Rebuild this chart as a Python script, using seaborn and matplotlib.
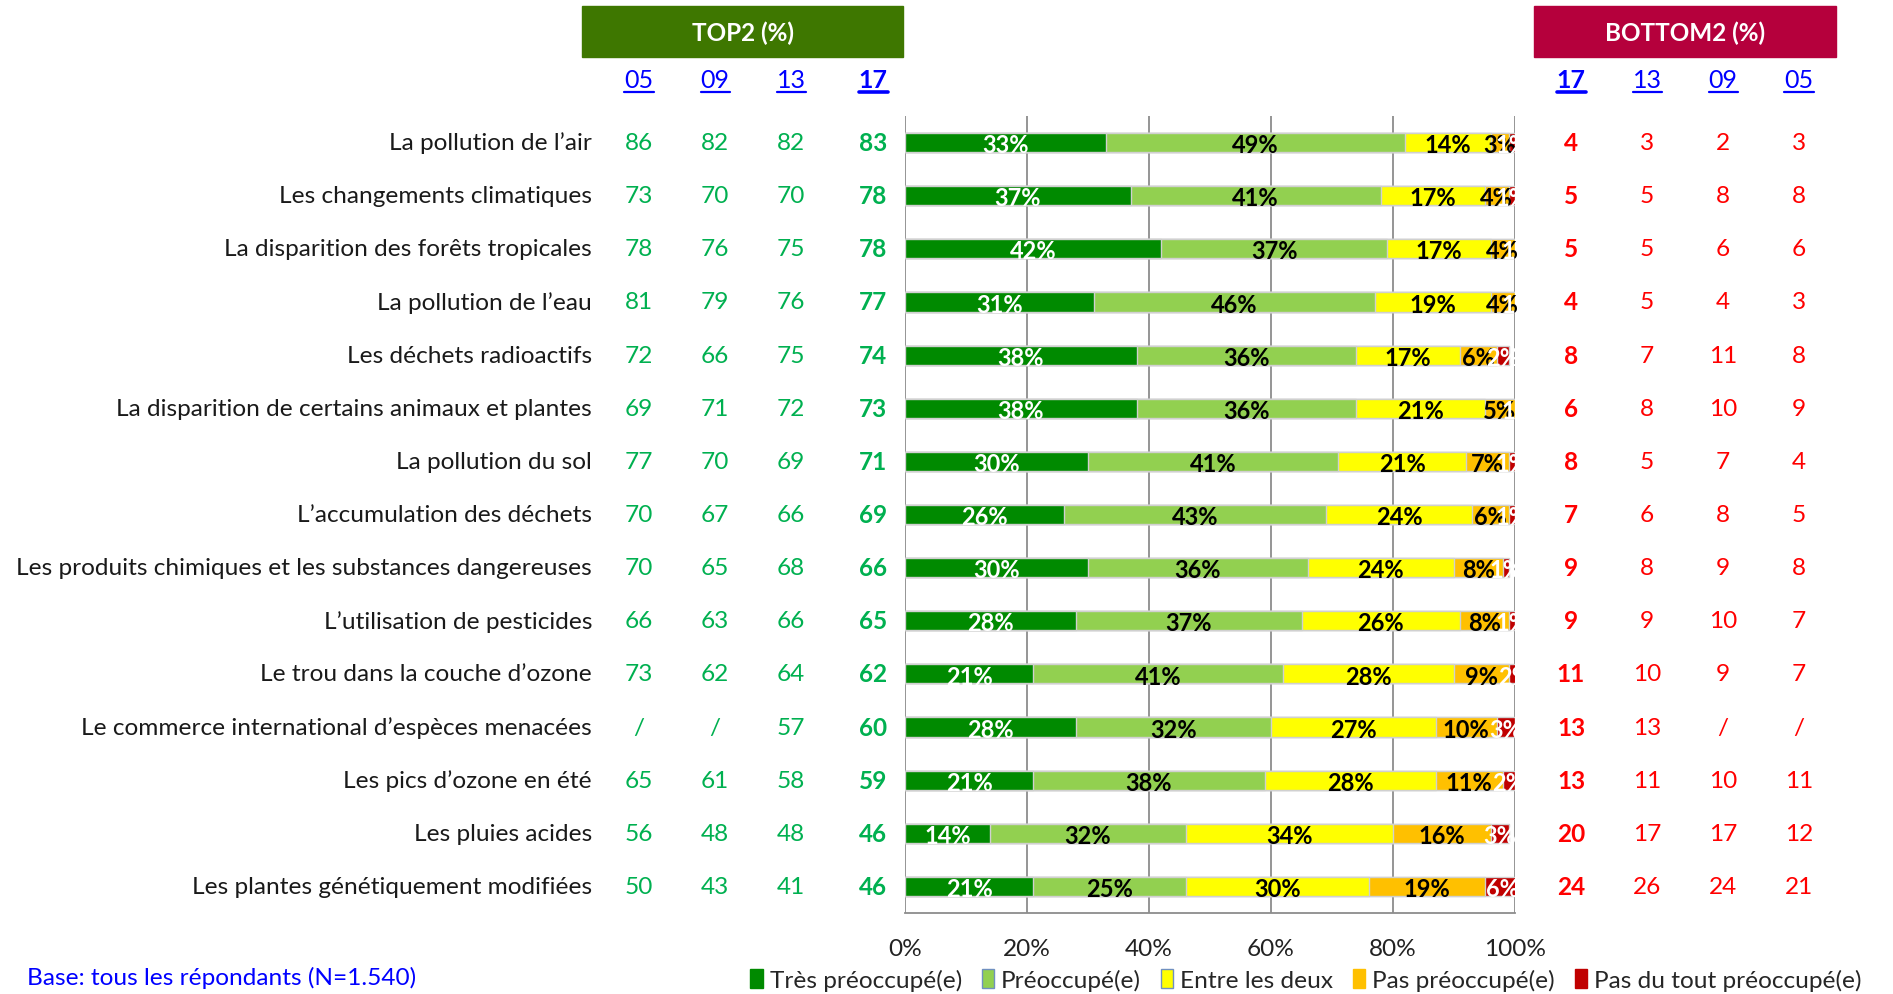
import numpy as np
import pandas as pd
import matplotlib
matplotlib.use("Agg")
import matplotlib.pyplot as plt
import matplotlib.transforms as mtransforms
from matplotlib.patches import Patch, Rectangle
from matplotlib.lines import Line2D
import seaborn as sns

# ---- data ----
items = [
    "La pollution de l\u2019air",
    "Les changements climatiques",
    "La disparition des forêts tropicales",
    "La pollution de l\u2019eau",
    "Les déchets radioactifs",
    "La disparition de certains animaux et plantes",
    "La pollution du sol",
    "L\u2019accumulation des déchets",
    "Les produits chimiques et les substances dangereuses",
    "L\u2019utilisation de pesticides",
    "Le trou dans la couche d\u2019ozone",
    "Le commerce international d\u2019espèces menacées",
    "Les pics d\u2019ozone en été",
    "Les pluies acides",
    "Les plantes génétiquement modifiées",
]
tres = [33, 37, 42, 31, 38, 38, 30, 26, 30, 28, 21, 28, 21, 14, 21]
preoc = [49, 41, 37, 46, 36, 36, 41, 43, 36, 37, 41, 32, 38, 32, 25]
entre = [14, 17, 17, 19, 17, 21, 21, 24, 24, 26, 28, 27, 28, 34, 30]
pas = [3, 4, 4, 4, 6, 5, 7, 6, 8, 8, 9, 10, 11, 16, 19]
pas_tout = [1, 1, 1, 1, 2, 1, 1, 1, 1, 1, 2, 3, 2, 3, 6]

series_names = ["Très préoccupé(e)", "Préoccupé(e)", "Entre les deux",
                "Pas préoccupé(e)", "Pas du tout préoccupé(e)"]
colors = ["#008A00", "#92D050", "#FFFF00", "#FFC000", "#C00000"]
label_colors = ["white", "black", "black", "black", "white"]

top2_years = ["05", "09", "13", "17"]
top2_05 = ["86", "73", "78", "81", "72", "69", "77", "70", "70", "66", "73", "/", "65", "56", "50"]
top2_09 = ["82", "70", "76", "79", "66", "71", "70", "67", "65", "63", "62", "/", "61", "48", "43"]
top2_13 = ["82", "70", "75", "76", "75", "72", "69", "66", "68", "66", "64", "57", "58", "48", "41"]
top2_17 = ["83", "78", "78", "77", "74", "73", "71", "69", "66", "65", "62", "60", "59", "46", "46"]

bot2_years = ["17", "13", "09", "05"]
bot2_17 = ["4", "5", "5", "4", "8", "6", "8", "7", "9", "9", "11", "13", "13", "20", "24"]
bot2_13 = ["3", "5", "5", "5", "7", "8", "5", "6", "8", "9", "10", "13", "11", "17", "26"]
bot2_09 = ["2", "8", "6", "4", "11", "10", "7", "8", "9", "10", "9", "/", "10", "17", "24"]
bot2_05 = ["3", "8", "6", "3", "8", "9", "4", "5", "8", "7", "7", "/", "11", "12", "21"]

# ---- figure ----
sns.set_style("white")
FONT = ["Lato", "DejaVu Sans"]
plt.rcParams["font.family"] = FONT

W, H = 1893, 995
FS = 17.6
fig = plt.figure(figsize=(W / 100, H / 100), dpi=100)
ax = fig.add_axes([905 / W, 1 - 914 / H, (1515 - 905) / W, (914 - 117) / H])

segs = [tres, preoc, entre, pas, pas_tout]
df = pd.DataFrame({"item": items})
cum = np.zeros(len(items))
cums = []
for s in segs:
    cum = cum + np.array(s)
    cums.append(cum.copy())

# draw cumulative bars from longest to shortest so they stack visually
for k in range(len(segs) - 1, -1, -1):
    df["val"] = cums[k]
    sns.barplot(data=df, x="val", y="item", orient="h", color=colors[k],
                width=0.36, saturation=1, edgecolor="#D0D0D0", linewidth=1.0,
                ax=ax, order=items)

# segment labels
for k, s in enumerate(segs):
    left = cums[k] - np.array(s)
    for i, v in enumerate(s):
        ax.text(left[i] + v / 2, i + 0.04, f"{v}%", ha="center", va="center",
                fontsize=17, fontweight="bold", color=label_colors[k], clip_on=False)

ax.set_xlim(0, 100)
ax.set_ylim(len(items) - 0.5, -0.5)
ax.set_xticks([0, 20, 40, 60, 80, 100])
ax.set_xticklabels(["0%", "20%", "40%", "60%", "80%", "100%"], fontsize=FS, color="#222222")
ax.set_yticks([])
ax.set_ylabel("")
ax.set_xlabel("")
ax.xaxis.grid(True, color="#8C8C8C", linewidth=1.3)
ax.set_axisbelow(True)
for sp in ["top", "right", "left"]:
    ax.spines[sp].set_visible(False)
ax.spines["bottom"].set_color("#8C8C8C")
ax.spines["bottom"].set_linewidth(1.3)
ax.tick_params(axis="x", length=6, color="#8C8C8C", pad=12, direction="out")

trans = mtransforms.blended_transform_factory(fig.transFigure, ax.transData)

# category labels
for i, name in enumerate(items):
    ax.text(592 / W, i, name, transform=trans, ha="right", va="center",
            fontsize=FS, color="#1a1a1a")

# TOP2 / BOTTOM2 columns
green_txt = "#00B050"
red_txt = "#FF0000"
top_cols = [top2_05, top2_09, top2_13, top2_17]
top_x = [639, 715, 791, 873]
for j, col in enumerate(top_cols):
    for i, v in enumerate(col):
        ax.text(top_x[j] / W, i, v, transform=trans, ha="center", va="center",
                fontsize=FS, color=green_txt,
                fontweight="bold" if j == 3 else "normal")

bot_cols = [bot2_17, bot2_13, bot2_09, bot2_05]
bot_x = [1571, 1647, 1723, 1799]
for j, col in enumerate(bot_cols):
    for i, v in enumerate(col):
        ax.text(bot_x[j] / W, i, v, transform=trans, ha="center", va="center",
                fontsize=FS, color=red_txt,
                fontweight="bold" if j == 0 else "normal")

# header boxes
fig.patches.append(Rectangle((582 / W, 1 - 58 / H), (903 - 582) / W, 51 / H,
                             transform=fig.transFigure, color="#3E7700", zorder=0))
fig.text((582 + 903) / 2 / W, 1 - 33 / H, "TOP2 (%)", ha="center", va="center",
         fontsize=17.5, fontweight="bold", color="white")
fig.patches.append(Rectangle((1534 / W, 1 - 58 / H), (1836 - 1534) / W, 51 / H,
                             transform=fig.transFigure, color="#B5003C", zorder=0))
fig.text((1534 + 1836) / 2 / W, 1 - 33 / H, "BOTTOM2 (%)", ha="center", va="center",
         fontsize=17.5, fontweight="bold", color="white")

# year labels (underlined)
year_texts = []
for j, y in enumerate(top2_years):
    year_texts.append(fig.text(top_x[j] / W, 1 - 80 / H, y, ha="center", va="center",
                               fontsize=18, color="#0000FF",
                               fontweight="bold" if j == 3 else "normal"))
for j, y in enumerate(bot2_years):
    year_texts.append(fig.text(bot_x[j] / W, 1 - 80 / H, y, ha="center", va="center",
                               fontsize=18, color="#0000FF",
                               fontweight="bold" if j == 0 else "normal"))

# legend
handles = [Patch(facecolor=c, edgecolor=("#7090C0" if k in (1, 2) else c))
           for k, c in enumerate(colors)]
fig.legend(handles, series_names, loc="center", bbox_to_anchor=(1306 / W, 1 - 981 / H),
           ncol=5, frameon=False, fontsize=FS, handlelength=0.5, handleheight=0.8,
           handletextpad=0.3, columnspacing=0.8)

fig.text(27 / W, 1 - 978 / H, "Base: tous les répondants (N=1.540)", ha="left",
         va="center", fontsize=FS, color="#0000FF")

# underline year labels
fig.canvas.draw()
renderer = fig.canvas.get_renderer()
for t in year_texts:
    bb = t.get_window_extent(renderer)
    yb = bb.y0 - 1
    fig.lines.append(Line2D([bb.x0 / W, bb.x1 / W], [yb / H, yb / H],
                            transform=fig.transFigure, color="#0000FF",
                            linewidth=2.6 if t.get_fontweight() == "bold" else 1.6))

fig.savefig("out.png", dpi=100)
